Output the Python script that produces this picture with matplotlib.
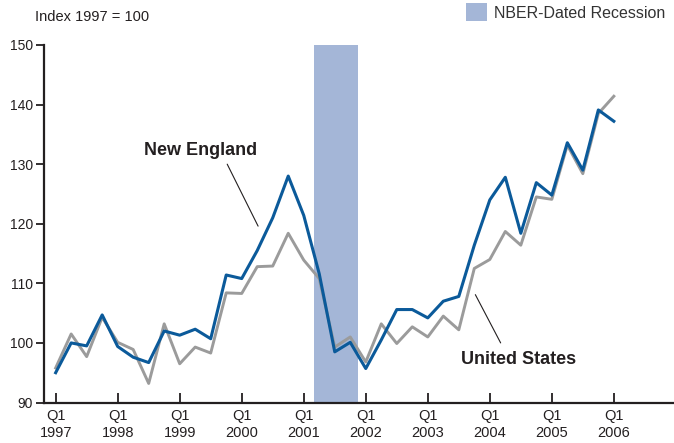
import matplotlib
matplotlib.use("Agg")
import matplotlib.pyplot as plt
from matplotlib.patches import Patch

# ---- data ----
start_year = 1997
new_england = [95.0, 100.0, 99.5, 104.7, 99.4, 97.6, 96.7, 102.0,
               101.3, 102.3, 100.7, 111.4, 110.8, 115.5, 121.0, 128.0,
               121.4, 111.6, 98.5, 100.1, 95.7, 100.5, 105.6, 105.6,
               104.2, 107.0, 107.8, 116.4, 124.0, 127.8, 118.4, 126.9,
               124.8, 133.6, 129.0, 139.1, 137.2]
united_states = [95.8, 101.5, 97.7, 104.3, 100.1, 98.9, 93.2, 103.2,
                 96.5, 99.3, 98.3, 108.4, 108.3, 112.8, 112.9, 118.4,
                 113.9, 110.8, 99.3, 101.0, 96.8, 103.2, 99.9, 102.7,
                 101.0, 104.5, 102.2, 112.5, 114.0, 118.7, 116.4, 124.5,
                 124.1, 133.2, 128.4, 138.5, 141.4]
tick_years = list(range(1997, 2007))
tick_labels = [f"Q1\n{y}" for y in tick_years]
recession = (2001.17, 2001.87)   # March - November 2001
yticks = [90, 100, 110, 120, 130, 140, 150]

x = [start_year + i / 4 for i in range(len(new_england))]

plt.rcParams['font.family'] = ['Liberation Sans', 'DejaVu Sans']
TXT = '#231f20'
BLUE = '#0b5a9a'
GRAY = '#9b9b9b'
BAND = '#a4b6d7'

fig = plt.figure(figsize=(6.74, 4.43), dpi=100)
ax = fig.add_axes([44 / 674, (443 - 402.5) / 443, 630 / 674, 357.5 / 443])

ax.axvspan(recession[0], recession[1], color=BAND, lw=0, zorder=1)
ax.plot(x, united_states, color=GRAY, lw=2.1, zorder=2)
ax.plot(x, new_england, color=BLUE, lw=2.2, zorder=3)

ax.set_xlim(1997 - 0.188, 2006.97)
ax.set_ylim(90, 150)
ax.set_yticks(yticks)
ax.set_xticks(tick_years)
ax.set_xticklabels(tick_labels, linespacing=1.2)

for s in ['top', 'right']:
    ax.spines[s].set_visible(False)
for s in ['left', 'bottom']:
    ax.spines[s].set_linewidth(1.6)
    ax.spines[s].set_color(TXT)

ax.tick_params(axis='x', direction='in', length=7, width=1.3, pad=5,
               labelsize=10.5, colors=TXT)
ax.tick_params(axis='y', direction='out', length=6, width=1.3, pad=2,
               labelsize=10, colors=TXT)

# annotations
ax.annotate('', xy=(2000.264, 119.6), xytext=(1999.766, 130.0),
            arrowprops=dict(arrowstyle='-', lw=0.8, color=TXT,
                            shrinkA=0, shrinkB=0))
ax.text(1999.33, 131.5, 'New England', fontsize=13, fontweight='bold',
        color=TXT, ha='center', va='baseline')

ax.annotate('', xy=(2004.175, 100.0), xytext=(2003.767, 108.1),
            arrowprops=dict(arrowstyle='-', lw=0.8, color=TXT,
                            shrinkA=0, shrinkB=0))
ax.text(2004.46, 96.5, 'United States', fontsize=13, fontweight='bold',
        color=TXT, ha='center', va='baseline')

fig.text(35 / 674, 1 - 17 / 443, 'Index 1997 = 100', fontsize=10.5,
         color=TXT, ha='left', va='center')

leg = fig.legend(handles=[Patch(facecolor=BAND, edgecolor='none',
                                label='NBER-Dated Recession')],
                 loc='upper right', bbox_to_anchor=(665 / 674, 1 - 3 / 443),
                 frameon=False, fontsize=11.5, borderpad=0, borderaxespad=0,
                 handlelength=1.3, handleheight=1.4, handletextpad=0.45)
for t in leg.get_texts():
    t.set_color('#333333')

fig.savefig('out.png', dpi=100)
